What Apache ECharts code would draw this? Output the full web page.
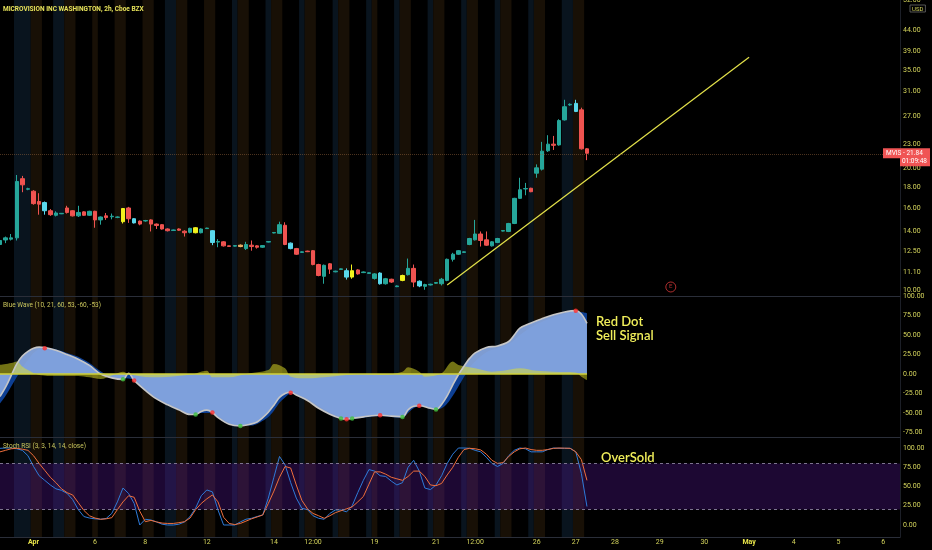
<!DOCTYPE html>
<html><head><meta charset="utf-8">
<script src="https://cdn.jsdelivr.net/npm/echarts@6/dist/echarts.min.js"></script>
<style>html,body{margin:0;padding:0;background:#000;}#c{width:932px;height:550px;}</style>
</head><body><div id="c"></div>
<script>
// ---------- DATA ----------
const slotCount = 162; // bar slots incl. future area
// candles: [open, close, low, high]
const candles = [
[13.0,13.3,12.9,13.4],[13.34,13.5,13.1,13.6],[13.4,13.5,13.3,13.8],[13.5,18.6,13.3,19.3],[18.9,18.25,17.5,19.2],
[17.8,17.85,17.7,17.95],[17.6,16.4,16.3,17.7],[16.6,16.35,15.4,17.4],[15.75,16.5,15.4,16.6],[15.75,15.4,15.3,15.9],
[15.35,15.55,15.25,15.7],[15.48,15.52,15.45,15.55],[16.0,15.6,15.5,16.2],[15.75,15.3,15.25,15.8],[15.3,15.6,15.2,16.2],
[15.65,15.35,15.3,15.7],[15.35,15.7,15.3,15.75],[15.7,14.95,14.3,15.75],[14.95,15.2,14.55,15.25],[15.3,15.15,14.95,15.55],
[15.22,15.27,15.0,15.5],[15.17,15.2,15.1,15.25],[14.8,15.95,14.65,16.0],[16.0,15.05,14.7,16.1],[14.7,15.05,14.65,15.1],
[14.85,14.6,14.5,14.9],[14.86,14.9,14.8,14.95],[14.95,14.6,14.0,15.0],[14.6,14.48,14.2,14.65],[14.55,14.2,14.15,14.6],
[14.2,14.06,14.0,14.25],[14.08,14.12,14.05,14.15],[14.2,14.1,14.05,14.25],[14.02,13.9,13.6,14.1],[13.93,14.25,13.85,14.3],
[13.9,14.3,13.85,14.35],[13.9,14.2,13.85,14.25],[14.23,14.27,14.2,14.3],[14.06,13.15,12.95,14.1],[13.18,13.22,12.8,13.4],
[13.2,12.9,12.85,13.25],[12.9,12.86,12.82,12.92],[12.88,12.92,12.85,12.95],[12.95,12.85,12.8,13.0],[12.7,13.0,12.6,13.2],
[12.95,12.85,12.55,13.3],[12.9,12.8,12.7,12.95],[12.8,12.92,12.75,12.95],[13.18,13.22,13.15,13.25],[13.88,13.92,13.85,13.95],
[13.85,14.55,13.8,14.8],[14.5,13.0,12.95,14.75],[13.1,12.7,12.65,13.15],[12.7,12.3,12.25,12.75],[12.43,12.47,12.4,12.5],
[12.52,12.48,12.45,12.55],[12.55,11.6,11.55,12.6],[11.6,10.9,10.85,11.65],[10.85,11.55,10.4,11.6],[11.65,11.3,11.0,11.7],
[11.13,11.17,11.1,11.2],[11.28,11.32,11.25,11.35],[11.2,10.8,10.65,11.35],[10.8,11.2,10.7,11.6],[11.25,11.0,10.95,11.3],
[11.08,11.12,11.05,11.15],[11.03,11.07,11.0,11.1],[10.72,11.0,10.65,11.05],[11.05,10.4,10.35,11.1],[10.4,10.7,10.35,10.75],
[10.67,10.5,10.45,10.7],[10.23,10.27,10.2,10.3],[10.6,10.9,10.55,10.95],[10.95,11.35,10.9,12.0],[11.35,10.5,10.2,11.6],
[10.55,10.27,10.2,10.6],[10.25,10.35,10.05,10.4],[10.33,10.37,10.3,10.4],[10.43,10.47,10.4,10.5],[10.4,10.67,10.3,10.75],
[10.6,11.95,10.55,12.0],[11.95,12.3,11.8,12.4],[12.3,12.55,12.25,12.6],[12.43,12.47,12.4,12.5],[13.0,13.45,12.95,13.5],
[13.35,13.8,13.3,14.95],[13.8,13.3,12.85,14.0],[13.35,12.95,12.9,14.0],[12.9,13.2,12.85,13.25],[13.15,13.45,13.1,13.5],
[14.03,14.07,14.0,14.1],[14.0,14.65,13.95,14.7],[14.65,16.9,14.6,16.95],[16.9,17.75,16.85,19.0],[17.83,17.87,17.2,18.45],
[17.9,17.55,17.5,17.95],[19.5,20.1,19.0,20.5],[19.95,22.1,19.8,23.3],[22.15,23.0,22.0,24.2],[23.0,22.85,22.25,24.1],
[22.9,26.3,22.8,26.5],[26.4,28.45,26.3,29.6],[28.75,28.85,28.6,29.0],[29.0,27.7,27.6,29.6],[27.95,22.4,22.3,28.3],
[22.4,21.84,21.0,22.5]
];
const cyanBars = [8,24,38,52,62,68,75,103];
const yellowBars = [22,35,63,72];
const peachBars = [43];
const lastPrice = 21.84;
const priceTicks = [10, 11.1, 12.5, 14, 16, 18, 20, 23, 27, 31, 35, 39, 44, 52];
const trendLine = [[80, 10.33], [134, 37.7]];
const earnings = [[120, 10.21]];

// session background bands: [firstBar, lastBar, 0 = pre-market, 1 = post-market]
const sessionBands = [[3,5,0],[6,7,1],[10,11,0],[12,13,1],[17,17,1],[21,22,1],[26,27,1],[30,31,0],[32,33,1],[37,38,1],
[42,42,0],[43,44,1],[48,48,0],[49,50,1],[54,54,0],[55,56,1],[60,60,0],[61,62,1],[66,66,0],[67,67,1],[71,71,0],[72,73,1],
[77,77,0],[78,79,1],[83,83,0],[84,85,1],[89,89,0],[90,91,1],[95,95,0],[96,97,1],[101,102,0],[103,104,1]];

// Blue Wave
const waveFast = [[0,-29],[1,-17],[2,-2],[3,13],[4,23],[5,29],[6,33],[7,34.5],[8,34],[10,30.5],[12,25],[14,19],[16,11],[18,0],
[20,-5],[22,-6.9],[23,1],[24,-8.2],[26,-21],[28,-32],[30,-39.5],[32,-46],[34,-52],[35,-52],[36,-48],[37,-46.4],[38,-49.4],
[39,-56],[41,-64.5],[43,-66.6],[45,-64],[46,-61.5],[47,-56],[48,-49],[49,-40],[50,-30],[51,-25],[52,-23.5],[53,-27],[55,-34],
[57,-44],[59,-51.5],[61,-57],[62,-58],[63,-57],[65,-55],[68,-52.9],[70,-54],[72,-55],[73,-46],[74,-41.5],[75,-40.8],[77,-44],
[78,-45.5],[79,-39],[80,-28],[81,-14],[82,-1],[83,10],[84,20],[85,27],[87,34],[89,36],[91,41.7],[92,50],[93,58.9],[95,65.5],
[97,71],[99,76],[101,79.5],[103,81.2],[104,77],[105,65]];
const waveSlow = [[0,-38],[1,-28],[2,-16],[3,-4],[4,8],[5,18],[6,27],[7,32],[8,33.5],[10,31.5],[12,27],[14,22],[16,14],[18,3.5],
[20,-3.5],[22,-5],[24,-7.5],[26,-19],[28,-30],[30,-38],[32,-44.5],[34,-50.5],[36,-50],[38,-50],[39,-54],[41,-62.7],[43,-66],
[45,-66],[46,-64],[47,-60],[48,-55],[49,-47],[50,-37],[51,-30],[52,-25],[53,-26],[55,-31.5],[57,-41],[59,-49],[61,-55],[63,-57],
[65,-56],[68,-54],[70,-55],[72,-56],[73,-50],[74,-44],[75,-41.5],[77,-43.5],[78,-45],[79,-44],[80,-38],[81,-28],[82,-16],[83,-4],
[84,8],[85,16],[87,28],[89,33],[91,38],[93,50],[95,60],[97,67],[99,72.5],[101,77],[103,80],[104,79.5],[105,78]];
const waveDiff = [[0,11.6],[2,14],[3,16],[4,9.5],[5,5],[7,-1.3],[10,-2.6],[14,-2.6],[16,-4.3],[18,-6.5],[20,-2],[22,3],[23,0],
[27,-4.3],[34,-1],[37,4.3],[38,-4.3],[41,-4.3],[44,0],[48,5],[49,12.9],[51,7.3],[52,-3.4],[55,-5.6],[58,-4.3],[62,-1.3],[65,0],
[68,-1.3],[72,3],[73,8.6],[75,3],[76,-3.4],[79,1],[81,15.9],[82,11.6],[85,7.3],[88,3],[90,4],[93,7.3],[96,4],[99,3],[103,2],
[104,-3.4],[105,-7.7]];
const waveZero = [[0,0],[105,0]];
const sellDots = [[8,33.1],[24,-8.2],[38,-49.4],[52,-24.1],[62,-58],[68,-52.9],[75,-40.8],[103,81.2]];
const buyDots = [[22,-6.9],[35,-52],[43,-66.6],[61,-57.1],[63,-57.1],[72,-55],[78,-45.5]];
const waveTicks = [-75,-50,-25,0,25,50,75,100];

// Stoch RSI
const stochK = [99.6,100,100,99,97,90,76,64,58,52,47,45,41,33,20,11,9,8,7.5,8.5,15,30,48,41,28,0,7.4,6.5,4,1,
0,0,1,4,11,22,38,45.5,43,19.5,0,0,0,4,7.5,8.7,11,13,35,62,89,78,55,35,21.6,20,12,8.7,7.4,15,
19.5,19.5,17,25,42,58,72,70,64,63,57,52,55,75,84,70,48,46,52,64,80,92,100,100,99.6,97,95,88,80,76,
80,90,97,100,99,95,95,95,98,100,99.6,99.6,99.6,95,67,24];
const stochD = [95,97,99,99.6,98.5,97,90,80,71,62,55,47,42,39,29,19,12,9,7.4,8,9.5,20,30,38,36,18,4.3,6,4,2.5,
2,2,3,4.3,9,20,28,34,39,30,10,2,0.5,2,5,8,10.5,13,28,44,62,76,74,52,32,21,15,12,8.7,12,
16,18.5,21,23.5,30,37,53,69,69,66,62,60,58,63,70,70,63,52,51,54,65,75,88,98,99.6,99,97.5,92,84,80,
81,89,95,99,100,98,97,97,98,99.5,100,99.8,99.6,95,85,58];
const stochTicks = [0,25,50,75,100];

// x-axis tick labels: [bar slot, text]
const timeTicks = [[6,'Apr'],[17,'6'],[26,'8'],[37,'12'],[49,'14'],[56,'12:00'],[67,'19'],[78,'21'],[85,'12:00'],
[96,'26'],[103,'27'],[110,'28'],[118,'29'],[126,'30'],[134,'May'],[142,'4'],[150,'5'],[158,'6']];

// ---------- CHART ----------
const slots = Array.from({length: slotCount}, (_, i) => String(i));
const tickMap = new Map(timeTicks);
const TXT = '#d4d45c', FONT = 'Roboto', LINE = '#2a2e39';
const UP = '#26a69a', DN = '#ef5350';
const special = {};
cyanBars.forEach(i => special[i] = '#5ad8ec');
yellowBars.forEach(i => special[i] = '#f2f21e');
peachBars.forEach(i => special[i] = '#f4b46a');
const candleData = candles.map((c, i) => {
  const v = c.map(Math.log);
  const col = special[i];
  return col ? {value: v, itemStyle: {color: col, color0: col, borderColor: col, borderColor0: col}} : v;
});

const grids = [
  {left: 0, width: 900, top: 0, height: 296, outerBoundsMode: 'none'},
  {left: 0, width: 900, top: 296, height: 141, outerBoundsMode: 'none'},
  {left: 0, width: 900, top: 437, height: 100, outerBoundsMode: 'none'},
  {left: 0, width: 900, top: 0, height: 537, outerBoundsMode: 'none'}
];
const catX = (gi, showLabels) => ({
  type: 'category', gridIndex: gi, data: slots, boundaryGap: false, position: 'bottom',
  axisLine: {show: true, onZero: false, lineStyle: {color: LINE, width: 1}},
  axisTick: {show: false}, splitLine: {show: false},
  axisLabel: showLabels ? {
    show: true, interval: (i) => tickMap.has(i), margin: 2,
    color: TXT, fontSize: 7, fontFamily: FONT,
    formatter: (v) => { const t = tickMap.get(Number(v)) || ''; return (t === 'Apr' || t === 'May') ? '{m|' + t + '}' : t; },
    rich: {m: {fontWeight: 'bold', color: '#e8e44a', fontSize: 7, fontFamily: FONT}}
  } : {show: false}
});
const valY = (gi, min, max, ticks, fmt) => ({
  type: 'value', gridIndex: gi, position: 'right', min: min, max: max, scale: true,
  splitLine: {show: false}, axisTick: {show: false},
  axisLine: {show: true, onZero: false, lineStyle: {color: '#1c1f27'}},
  axisLabel: {customValues: ticks, formatter: fmt, color: TXT, fontSize: 7, fontFamily: FONT, margin: 3}
});

const chart = echarts.init(document.getElementById('c'), null, {renderer: 'canvas'});
chart.setOption({
  backgroundColor: '#000',
  animation: false,
  title: [
    {text: 'MICROVISION INC WASHINGTON, 2h, Cboe BZX', left: 3, top: 6, padding: 0,
     textStyle: {color: '#e6e25a', fontSize: 6.5, fontWeight: 'bold', fontFamily: FONT}},
    {text: 'Blue Wave (10, 21, 60, 53, -60, -53)', left: 3, top: 302, padding: 0,
     textStyle: {color: '#c9c55c', fontSize: 6.5, fontWeight: 'normal', fontFamily: FONT}},
    {text: 'Stoch RSI (3, 3, 14, 14, close)', left: 3, top: 443, padding: 0,
     textStyle: {color: '#c9c55c', fontSize: 6.5, fontWeight: 'normal', fontFamily: FONT}}
  ],
  grid: grids,
  xAxis: [catX(0, false), catX(1, false), catX(2, true),
    {type: 'value', gridIndex: 3, min: 0, max: slotCount - 1, show: false}],
  yAxis: [
    valY(0, Math.log(9.70), Math.log(52.2), priceTicks.map(Math.log), v => Math.exp(v).toFixed(2)),
    valY(1, -80.8, 100, waveTicks, v => v.toFixed(2)),
    valY(2, -15.6, 114.3, stochTicks, v => v.toFixed(2)),
    {type: 'value', gridIndex: 3, min: 0, max: 1, show: false}
  ],
  series: [
    { // session background stripes
      type: 'custom', xAxisIndex: 3, yAxisIndex: 3, z: 0, silent: true,
      data: sessionBands, encode: {x: [0, 1], y: 2},
      renderItem: (params, api) => {
        const a = api.coord([api.value(0) - 0.5, 1]);
        const b = api.coord([api.value(1) + 0.5, 0]);
        return {type: 'rect', shape: {x: a[0], y: a[1], width: b[0] - a[0], height: b[1] - a[1]},
          style: {fill: api.value(2) === 0 ? '#09141e' : '#181006'}};
      }
    },
    {
      type: 'candlestick', xAxisIndex: 0, yAxisIndex: 0, data: candleData, barWidth: 4,
      itemStyle: {color: UP, color0: DN, borderColor: UP, borderColor0: DN, borderWidth: 1},
      markLine: {silent: true, symbol: ['none', 'none'], label: {show: false},
        lineStyle: {color: 'rgba(150,100,60,0.5)', type: 'dotted', width: 1},
        data: [{yAxis: Math.log(lastPrice)}]}
    },
    {
      type: 'line', xAxisIndex: 0, yAxisIndex: 0, data: trendLine.map(p => [p[0], Math.log(p[1])]),
      symbol: 'none', lineStyle: {color: '#e4e24a', width: 1.2}, silent: true
    },
    {
      type: 'scatter', xAxisIndex: 0, yAxisIndex: 0, data: earnings.map(p => [p[0], Math.log(p[1])]),
      symbol: 'circle', symbolSize: 10, silent: true,
      itemStyle: {color: 'rgba(0,0,0,0)', borderColor: '#d83a3a', borderWidth: 1},
      label: {show: true, position: 'inside', formatter: 'E', color: '#d83a3a', fontSize: 6, fontFamily: FONT}
    },
    {
      type: 'line', xAxisIndex: 1, yAxisIndex: 1, data: waveSlow, smooth: 0.35, symbol: 'none',
      lineStyle: {opacity: 0}, areaStyle: {color: '#0d3f93', opacity: 1}, silent: true
    },
    {
      type: 'line', xAxisIndex: 1, yAxisIndex: 1, data: waveFast, smooth: 0.35, symbol: 'none',
      lineStyle: {color: '#c6c6c6', width: 1.6}, areaStyle: {color: 'rgba(136,168,226,0.93)', opacity: 1}, silent: true
    },
    {
      type: 'line', xAxisIndex: 1, yAxisIndex: 1, data: waveDiff, smooth: 0.35, symbol: 'none',
      lineStyle: {opacity: 0}, areaStyle: {color: 'rgba(226,226,40,0.5)', opacity: 1}, silent: true
    },
    {
      type: 'line', xAxisIndex: 1, yAxisIndex: 1, data: waveZero, symbol: 'none',
      lineStyle: {color: '#d2d23a', width: 1.4}, silent: true
    },
    {
      type: 'scatter', xAxisIndex: 1, yAxisIndex: 1, data: sellDots, symbolSize: 4.5,
      itemStyle: {color: '#ff2e2e'}, silent: true, z: 5
    },
    {
      type: 'scatter', xAxisIndex: 1, yAxisIndex: 1, data: buyDots, symbolSize: 4.5,
      itemStyle: {color: '#3fbf3f'}, silent: true, z: 5
    },
    {
      type: 'line', xAxisIndex: 2, yAxisIndex: 2, data: stochK, symbol: 'none',
      lineStyle: {color: '#2f7bd9', width: 1}, silent: true,
      markArea: {silent: true, itemStyle: {color: 'rgba(95,25,170,0.3)'}, data: [[{yAxis: 20}, {yAxis: 80}]]},
      markLine: {silent: true, symbol: ['none', 'none'], label: {show: false},
        lineStyle: {color: '#7d7490', type: [3, 3], width: 1}, data: [{yAxis: 80}, {yAxis: 20}]}
    },
    {
      type: 'line', xAxisIndex: 2, yAxisIndex: 2, data: stochD, symbol: 'none',
      lineStyle: {color: '#ef6f3c', width: 1}, silent: true
    }
  ]
});

// overlays positioned through the price scale
const py = chart.convertToPixel({yAxisIndex: 0}, Math.log(lastPrice));
chart.setOption({
  graphic: [
    {type: 'rect', shape: {x: 883, y: py - 5, width: 47, height: 10}, style: {fill: '#f05454'}, z: 20},
    {type: 'rect', shape: {x: 900, y: py + 4, width: 30, height: 9}, style: {fill: '#f05454'}, z: 20},
    {type: 'text', x: 886, y: py, z: 21, style: {text: 'MVIS - ' + lastPrice.toFixed(2), fill: '#fff',
      font: '6.5px Roboto', verticalAlign: 'middle', align: 'left'}},
    {type: 'text', x: 927, y: py + 8.5, z: 21, style: {text: '01:09:48', fill: '#fff',
      font: '6.5px Roboto', verticalAlign: 'middle', align: 'right'}},
    {type: 'text', x: 910, y: 5, z: 21, style: {text: 'USD', fill: TXT, font: '6px Roboto',
      borderColor: '#6a6a6a', borderWidth: 0.8, padding: [1, 2, 0, 2]}},
    {type: 'text', x: 596, y: 315, z: 21, style: {text: 'Red Dot\nSell Signal', fill: '#f0ee5a',
      font: '600 13px Lato', lineHeight: 14}},
    {type: 'text', x: 601, y: 451, z: 21, style: {text: 'OverSold', fill: '#f0ee5a', font: '600 13px Lato'}}
  ]
});
</script>
</body></html>
